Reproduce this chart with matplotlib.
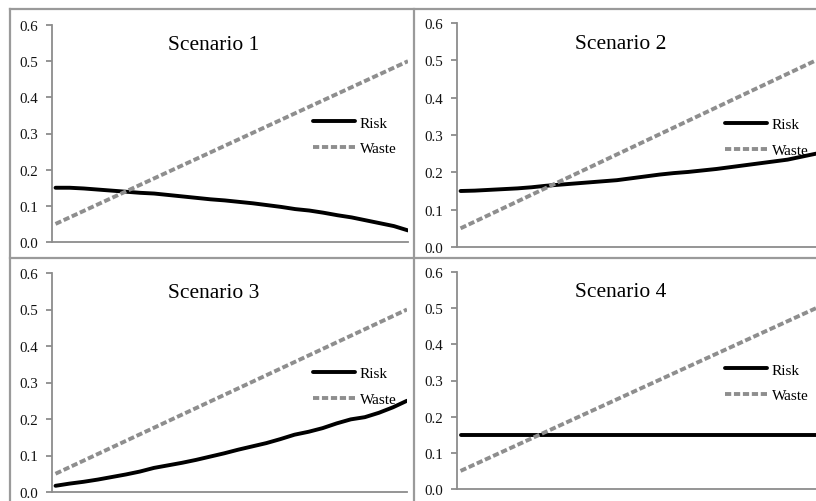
#Risk and waste curves for four scenarios, 2x2 panels
import matplotlib
matplotlib.use("Agg")
import matplotlib.pyplot as plt
from matplotlib.ticker import FormatStrFormatter, MultipleLocator
from matplotlib.lines import Line2D

plt.rcParams['font.family'] = ['Liberation Serif', 'DejaVu Serif']

#Data (one value per step along the x axis)
steps = list(range(26))
waste = [0.050, 0.068, 0.086, 0.104, 0.122, 0.140, 0.158, 0.176, 0.194, 0.212,
         0.230, 0.248, 0.266, 0.284, 0.302, 0.320, 0.338, 0.356, 0.374, 0.392,
         0.410, 0.428, 0.446, 0.464, 0.482, 0.500]
risk_s1 = [0.150, 0.150, 0.148, 0.145, 0.142, 0.139, 0.136, 0.134, 0.130, 0.126,
           0.122, 0.118, 0.115, 0.111, 0.107, 0.102, 0.097, 0.091, 0.087, 0.081,
           0.074, 0.068, 0.060, 0.052, 0.044, 0.032]
risk_s2 = [0.150, 0.151, 0.153, 0.155, 0.157, 0.160, 0.164, 0.167, 0.170, 0.173,
           0.176, 0.179, 0.184, 0.189, 0.194, 0.198, 0.201, 0.205, 0.209, 0.214,
           0.219, 0.224, 0.229, 0.234, 0.242, 0.250]
risk_s3 = [0.017, 0.023, 0.028, 0.034, 0.041, 0.048, 0.056, 0.066, 0.073, 0.080,
           0.088, 0.097, 0.106, 0.116, 0.125, 0.134, 0.145, 0.157, 0.165, 0.175,
           0.188, 0.199, 0.205, 0.217, 0.232, 0.250]
risk_s4 = [0.150] * 26
titles = ["Scenario 1", "Scenario 2", "Scenario 3", "Scenario 4"]
risks = [risk_s1, risk_s2, risk_s3, risk_s4]

W, H = 816, 502
fig = plt.figure(figsize=(W/100, H/100), dpi=100)

# axes boxes in pixels: left, right, top, bottom
boxes = [(52, 408, 26, 243), (457, 816, 24, 248), (52, 407, 274, 493), (457, 816, 273, 490)]
# legend anchor (axes fraction)
leg_pos = [(0.733, 0.49), (0.747, 0.49), (0.735, 0.482), (0.747, 0.49)]

axcol = '#8c8c8c'
for k in range(4):
    l, r, t, b = boxes[k]
    ax = fig.add_axes([l/W, 1-b/H, (r-l)/W, (b-t)/H])
    ax.plot(steps, risks[k], color='black', linewidth=2.8, label='Risk',
            solid_capstyle='round', solid_joinstyle='round')
    ax.plot(steps, waste, color='#8e8e8e', linewidth=2.8, label='Waste',
            linestyle=(0, (1.6, 0.7)), dash_capstyle='butt')
    ax.set_xlim(-0.25, 25)
    ax.set_ylim(0, 0.6)
    ax.yaxis.set_major_locator(MultipleLocator(0.1))
    ax.yaxis.set_major_formatter(FormatStrFormatter('%.1f'))
    ax.set_xticks([])
    for s in ['top', 'right']:
        ax.spines[s].set_visible(False)
    for s in ['left', 'bottom']:
        ax.spines[s].set_color(axcol)
        ax.spines[s].set_linewidth(1.3)
    ax.tick_params(axis='y', direction='out', length=4, width=1.3, color=axcol,
                   labelsize=10.8, pad=6, labelcolor='#111111')
    ax.text(0.455, 0.91, titles[k], transform=ax.transAxes, ha='center', va='center',
            fontsize=15.5)
    ax.legend(loc='center left', bbox_to_anchor=leg_pos[k], frameon=False, fontsize=11,
              handlelength=2.75, handletextpad=0.3, labelspacing=0.8,
              borderpad=0, borderaxespad=0)
    ax.patch.set_alpha(0)

#Panel frame lines
bc = '#9a9a9a'
for xy in [((10, 10), (10, H)), ((10, W), (10, 10)), ((414, 414), (10, H)), ((10, W), (259, 259))]:
    fig.add_artist(Line2D([v/W for v in xy[0]], [1-v/H for v in xy[1]], color=bc,
                          linewidth=1.6, transform=fig.transFigure))

fig.savefig('out.png', dpi=100)
